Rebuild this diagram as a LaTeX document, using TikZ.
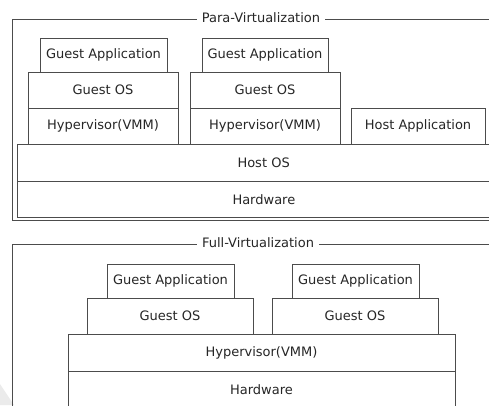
\documentclass[tikz,border=0pt]{standalone}
\usepackage{fontspec}
\setmainfont{DejaVu Sans}
\begin{document}
\begin{tikzpicture}[x=1pt,y=-1pt,
  layer/.style={draw=black!70,line width=1pt,fill=white,text=black!85,font=\fontsize{13}{15}\selectfont},
  frame/.style={draw=black!70,line width=1pt},
  ttl/.style={fill=white,text=black!85,inner xsep=5pt,font=\fontsize{13}{15}\selectfont}]
\useasboundingbox (0,0) rectangle (489,405);
\clip (0,0) rectangle (489,405);
\fill[black!8] (0,384) -- (14,405) -- (0,405) -- cycle;
% ---------- Para-Virtualization ----------
\draw[frame] (12,19) rectangle (520,220.5);
\node[ttl] (pt) at (261,18) {Para-Virtualization};
\node[layer,minimum width=127pt,minimum height=34pt] (ga1) at (103.5,55) {Guest Application};
\node[layer,minimum width=150pt,minimum height=36pt] (go1) at (103,90) {Guest OS};
\node[layer,minimum width=150pt,minimum height=36pt] (hv1) at (103,126) {Hypervisor(VMM)};
\node[layer,minimum width=126pt,minimum height=34pt] (ga2) at (265,55) {Guest Application};
\node[layer,minimum width=150pt,minimum height=36pt] (go2) at (265,90) {Guest OS};
\node[layer,minimum width=150pt,minimum height=36pt] (hv2) at (265,126) {Hypervisor(VMM)};
\node[layer,minimum width=134pt,minimum height=36pt] (ha) at (418,126) {Host Application};
\node[layer,minimum width=500pt,minimum height=37pt,anchor=north west,text width=490pt,align=left] (hos) at (17,144) {\hspace*{215pt}Host OS};
\node[layer,minimum width=500pt,minimum height=36pt,anchor=north west,text width=490pt,align=left] (hw1) at (17,181) {\hspace*{210pt}Hardware};
% ---------- Full-Virtualization ----------
\draw[frame] (12,244) rectangle (520,420);
\node[ttl] (ft) at (258,243) {Full-Virtualization};
\node[layer,minimum width=127pt,minimum height=34pt] (fga1) at (170.5,281) {Guest Application};
\node[layer,minimum width=166pt,minimum height=36pt] (fgo1) at (170,316) {Guest OS};
\node[layer,minimum width=127pt,minimum height=34pt] (fga2) at (355.5,281) {Guest Application};
\node[layer,minimum width=166pt,minimum height=36pt] (fgo2) at (355,316) {Guest OS};
\node[layer,minimum width=387pt,minimum height=37pt] (fhv) at (261.5,352.5) {Hypervisor(VMM)};
\node[layer,minimum width=387pt,minimum height=37pt,anchor=north] (fhw) at (261.5,371) {Hardware};
\end{tikzpicture}
\end{document}
